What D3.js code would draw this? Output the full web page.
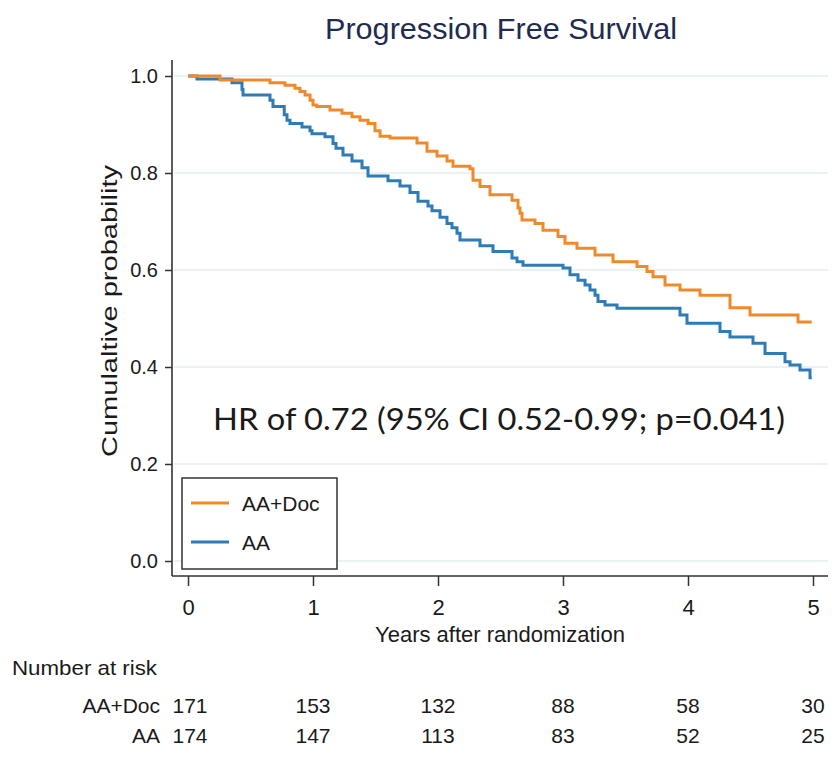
<!DOCTYPE html>
<html>
<head>
<meta charset="utf-8">
<script src="https://cdn.jsdelivr.net/npm/d3@7"></script>
<style>
  html, body { margin: 0; padding: 0; background: #ffffff; }
  svg { display: block; }
  text { font-family: "Liberation Sans", Arial, Helvetica, sans-serif; fill: #1a1a1a; }
</style>
</head>
<body>
<svg id="chart" width="840" height="776"></svg>
<script>
// ---------------- data ----------------
const chartTitle = "Progression Free Survival";
const yTitle = "Cumulaltive probability";
const xTitle = "Years after randomization";
const hrText = "HR of 0.72 (95% CI 0.52-0.99; p=0.041)";
const seriesNames = ["AA+Doc", "AA"];
const xTicks = [0, 1, 2, 3, 4, 5];
const yTicks = [0, 0.2, 0.4, 0.6, 0.8, 1.0];
const followUpEnd = 4.99;

// AA+Doc Kaplan-Meier step changes (time in years, survival after step)
const docTimes = [0, 0.256, 0.656, 0.776, 0.856, 0.896, 0.936, 0.976, 1.0, 1.03, 1.136, 1.232, 1.312, 1.376, 1.44, 1.496, 1.536, 1.616, 1.832, 1.912, 1.992, 2.072, 2.12, 2.256, 2.28, 2.336, 2.416, 2.592, 2.64, 2.656, 2.672, 2.776, 2.84, 2.96, 3.016, 3.112, 3.256, 3.4, 3.592, 3.672, 3.72, 3.816, 3.936, 4.096, 4.336, 4.496, 4.88];
const docSurv  = [1.0, 0.992, 0.986, 0.981, 0.975, 0.968, 0.961, 0.950, 0.940, 0.937, 0.930, 0.923, 0.916, 0.909, 0.902, 0.887, 0.876, 0.872, 0.862, 0.845, 0.835, 0.825, 0.814, 0.809, 0.785, 0.772, 0.755, 0.744, 0.728, 0.717, 0.703, 0.696, 0.682, 0.669, 0.655, 0.645, 0.631, 0.617, 0.607, 0.597, 0.586, 0.569, 0.559, 0.548, 0.522, 0.507, 0.493];

// AA Kaplan-Meier step changes
const aaTimes = [0, 0.072, 0.352, 0.432, 0.44, 0.656, 0.68, 0.77, 0.792, 0.816, 0.912, 0.976, 0.992, 1.096, 1.16, 1.184, 1.24, 1.312, 1.392, 1.44, 1.6, 1.696, 1.776, 1.84, 1.92, 1.952, 2.016, 2.072, 2.112, 2.152, 2.176, 2.336, 2.44, 2.592, 2.632, 2.68, 3.0, 3.056, 3.12, 3.176, 3.216, 3.256, 3.28, 3.336, 3.432, 3.936, 3.992, 4.256, 4.336, 4.52, 4.616, 4.776, 4.816, 4.896, 4.976];
const aaSurv  = [1.0, 0.994, 0.986, 0.972, 0.961, 0.950, 0.937, 0.920, 0.909, 0.902, 0.895, 0.887, 0.881, 0.875, 0.861, 0.851, 0.837, 0.825, 0.811, 0.794, 0.784, 0.773, 0.760, 0.742, 0.732, 0.722, 0.709, 0.696, 0.687, 0.676, 0.662, 0.650, 0.638, 0.625, 0.617, 0.610, 0.604, 0.590, 0.579, 0.569, 0.559, 0.548, 0.535, 0.528, 0.521, 0.507, 0.490, 0.473, 0.462, 0.449, 0.428, 0.411, 0.404, 0.394, 0.378];

const riskDoc = [171, 153, 132, 88, 58, 30];
const riskAA  = [174, 147, 113, 83, 52, 25];

const colors = ["#ef8a2c", "#2f7bb5"];

// ---------------- drawing ----------------
const svg = d3.select("#chart");
const x = d3.scaleLinear().domain([0, 5]).range([188, 813]);
const y = d3.scaleLinear().domain([0, 1]).range([561, 76]);

const plotLeft = 172, plotRight = 828, plotTop = 60, plotBottom = 576;

// gridlines
svg.append("g").selectAll("line").data(yTicks).join("line")
  .attr("x1", plotLeft + 2).attr("x2", plotRight)
  .attr("y1", d => y(d)).attr("y2", d => y(d))
  .attr("stroke", "#e4eef1").attr("stroke-width", 1.5);

// y axis
const yAxis = svg.append("g").attr("transform", `translate(${plotLeft},0)`)
  .call(d3.axisLeft(y).tickValues(yTicks).tickFormat(d3.format(".1f")).tickSize(7).tickPadding(7));
yAxis.select(".domain").remove();
yAxis.selectAll(".tick line").attr("stroke", "#333").attr("stroke-width", 1.5);
yAxis.selectAll(".tick text").attr("font-size", 20).attr("fill", "#1a1a1a")
  .style("font-family", '"Liberation Sans", Arial, sans-serif');
svg.append("line").attr("x1", plotLeft).attr("x2", plotLeft).attr("y1", plotTop).attr("y2", plotBottom)
  .attr("stroke", "#333").attr("stroke-width", 1.6);

// x axis
const xAxis = svg.append("g").attr("transform", `translate(0,${plotBottom})`)
  .call(d3.axisBottom(x).tickValues(xTicks).tickFormat(d3.format("d")).tickSize(10).tickPadding(13));
xAxis.select(".domain").remove();
xAxis.selectAll(".tick line").attr("stroke", "#333").attr("stroke-width", 1.5);
xAxis.selectAll(".tick text").attr("font-size", 22).attr("fill", "#1a1a1a")
  .style("font-family", '"Liberation Sans", Arial, sans-serif');
svg.append("line").attr("x1", plotLeft).attr("x2", plotRight).attr("y1", plotBottom).attr("y2", plotBottom)
  .attr("stroke", "#333").attr("stroke-width", 1.6);

// survival curves
const line = d3.line().x(d => x(d[0])).y(d => y(d[1])).curve(d3.curveStepAfter);
function pts(times, surv) {
  const p = times.map((t, i) => [t, surv[i]]);
  p.push([followUpEnd, surv[surv.length - 1]]);
  return p;
}
const series = [pts(docTimes, docSurv), pts(aaTimes, aaSurv)];
// draw AA first so AA+Doc sits on top
[1, 0].forEach(i => {
  svg.append("path").datum(series[i]).attr("d", line)
    .attr("fill", "none").attr("stroke", colors[i]).attr("stroke-width", 3)
    .attr("stroke-linejoin", "miter");
});

// title
svg.append("text").attr("x", 501).attr("y", 39).attr("text-anchor", "middle")
  .attr("font-size", 29).style("fill", "#1f2b4f").attr("textLength", 352).attr("lengthAdjust", "spacingAndGlyphs")
  .text(chartTitle);

// y title
svg.append("text").attr("transform", "translate(117,311) rotate(-90)").attr("text-anchor", "middle")
  .attr("font-size", 22).attr("textLength", 292).attr("lengthAdjust", "spacingAndGlyphs")
  .text(yTitle);

// x title
svg.append("text").attr("x", 500).attr("y", 642).attr("text-anchor", "middle")
  .attr("font-size", 22).attr("textLength", 250).attr("lengthAdjust", "spacingAndGlyphs")
  .text(xTitle);

// HR annotation
svg.append("text").attr("x", 213).attr("y", 430)
  .attr("font-size", 31).style("font-family", 'Lato, "Open Sans", sans-serif')
  .attr("textLength", 572).attr("lengthAdjust", "spacingAndGlyphs")
  .text(hrText);

// legend
const lg = svg.append("g");
lg.append("rect").attr("x", 182).attr("y", 478).attr("width", 155).attr("height", 91)
  .attr("fill", "#fff").attr("stroke", "#333").attr("stroke-width", 1.5);
seriesNames.forEach((name, i) => {
  const ly = 503 + i * 39;
  lg.append("line").attr("x1", 191).attr("x2", 229).attr("y1", ly).attr("y2", ly)
    .attr("stroke", colors[i]).attr("stroke-width", 3);
  lg.append("text").attr("x", 242).attr("y", ly + 8).attr("font-size", 21).text(name);
});

// number at risk table
svg.append("text").attr("x", 12).attr("y", 675).attr("font-size", 21)
  .attr("textLength", 145).attr("lengthAdjust", "spacingAndGlyphs").text("Number at risk");
[riskDoc, riskAA].forEach((row, i) => {
  const by = 713 + i * 30;
  svg.append("text").attr("x", 160).attr("y", by).attr("text-anchor", "end").attr("font-size", 21)
    .text(seriesNames[i]);
  svg.append("g").selectAll("text").data(row).join("text")
    .attr("x", (d, j) => x(xTicks[j]) + (j === 0 ? 2 : 0)).attr("y", by)
    .attr("text-anchor", "middle").attr("font-size", 21).text(d => d);
});
</script>
</body>
</html>
